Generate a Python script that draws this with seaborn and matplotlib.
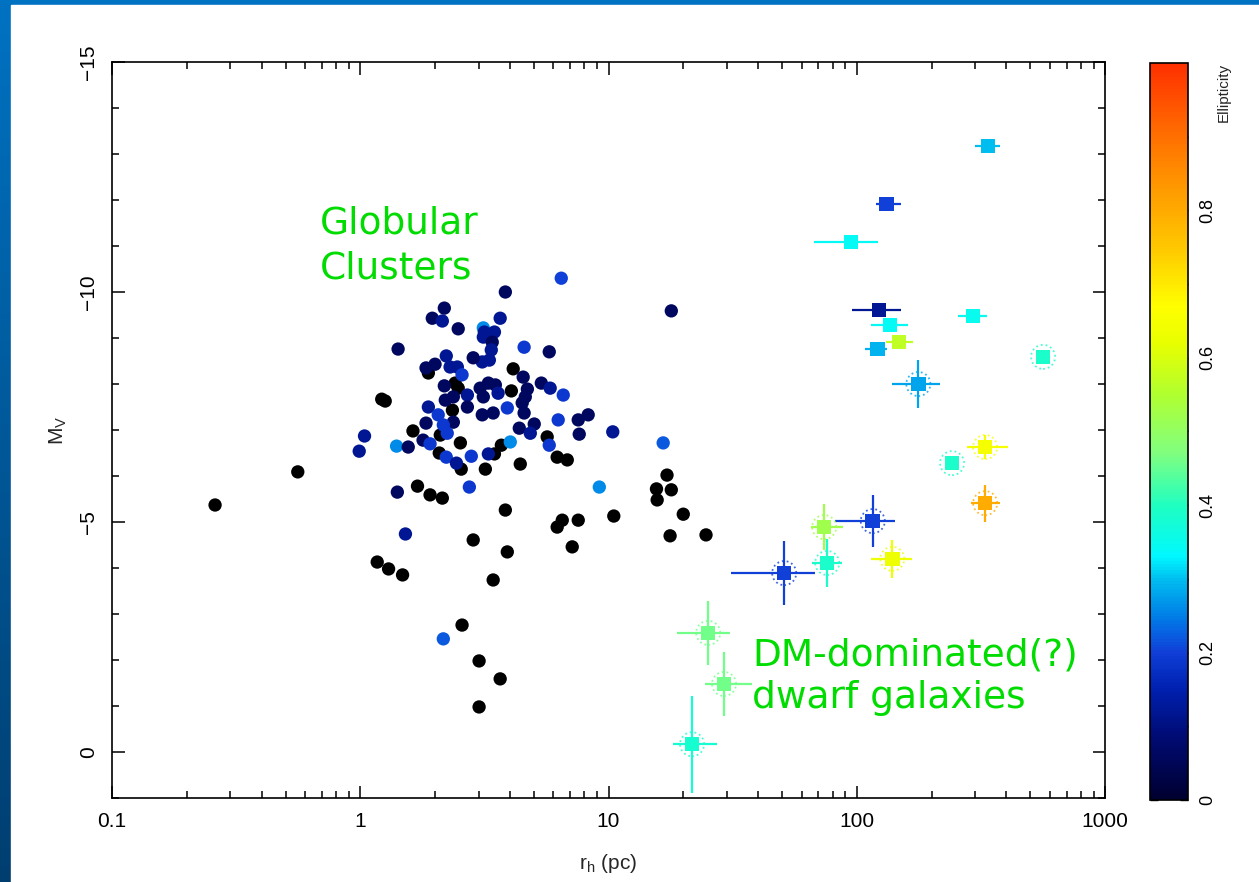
import numpy as np
import matplotlib
matplotlib.use("Agg")
import matplotlib.pyplot as plt
from matplotlib.colors import LinearSegmentedColormap, Normalize
from matplotlib.cm import ScalarMappable
from matplotlib.patches import Rectangle
from matplotlib.ticker import LogLocator, MultipleLocator, FixedLocator, NullFormatter
import seaborn as sns

# Globular clusters with a measured ellipticity
gc_r = [6.45, 3.84, 2.18, 1.95, 2.14, 2.48, 3.66, 3.13, 3.16, 3.47, 3.13, 3.40, 3.37, 3.31,
        3.10, 2.85, 1.42, 4.57, 5.77, 2.22, 1.84, 2.00, 2.30, 2.46, 2.57, 4.53, 2.18, 2.70,
        3.04, 3.28, 3.50, 3.13, 3.59, 4.71, 5.36, 5.82, 6.57, 4.62, 2.20, 2.37, 1.88, 2.70,
        3.91, 4.49, 4.57, 3.10, 3.43, 2.06, 2.37, 2.16, 6.27, 8.28, 7.55, 1.84, 2.24, 1.79,
        1.04, 0.99, 1.40, 1.56, 1.91, 4.37, 5.02, 4.84, 10.4, 7.62, 5.77, 4.02, 3.28, 2.80,
        2.22, 2.44, 2.75, 1.41, 9.18, 16.6, 1.52, 2.16, 17.9]
gc_mv = [-10.30, -10.00, -9.65, -9.43, -9.37, -9.20, -9.43, -9.22, -9.13, -9.13, -9.02, -8.91,
         -8.74, -8.52, -8.48, -8.57, -8.76, -8.80, -8.70, -8.61, -8.35, -8.43, -8.37, -8.37,
         -8.20, -8.15, -7.96, -7.76, -7.91, -8.02, -7.98, -7.72, -7.80, -7.89, -8.02, -7.91,
         -7.76, -7.72, -7.65, -7.72, -7.50, -7.50, -7.48, -7.59, -7.37, -7.33, -7.37, -7.33,
         -7.17, -7.11, -7.22, -7.33, -7.22, -7.15, -6.93, -6.78, -6.87, -6.54, -6.65, -6.63,
         -6.70, -7.04, -7.13, -6.93, -6.96, -6.91, -6.67, -6.74, -6.48, -6.43, -6.41, -6.28,
         -5.76, -5.65, -5.76, -6.72, -4.74, -2.46, -9.59]
gc_ell = [0.20, 0.06, 0.06, 0.06, 0.12, 0.06, 0.12, 0.26, 0.12, 0.12, 0.12, 0.06, 0.12, 0.12,
          0.12, 0.06, 0.06, 0.19, 0.06, 0.12, 0.06, 0.06, 0.12, 0.12, 0.19, 0.06, 0.06, 0.12,
          0.06, 0.06, 0.06, 0.06, 0.12, 0.06, 0.06, 0.12, 0.19, 0.06, 0.06, 0.06, 0.12, 0.06,
          0.19, 0.06, 0.06, 0.06, 0.06, 0.19, 0.06, 0.19, 0.19, 0.06, 0.06, 0.06, 0.19, 0.06,
          0.12, 0.12, 0.26, 0.06, 0.19, 0.06, 0.06, 0.12, 0.12, 0.06, 0.19, 0.26, 0.12, 0.19,
          0.19, 0.12, 0.19, 0.06, 0.26, 0.22, 0.12, 0.22, 0.06]

# Globular clusters without ellipticity (drawn black)
gc0_r = [1.88, 4.13, 2.41, 2.48, 4.06, 1.22, 1.26, 2.35, 1.63, 2.10, 5.66, 2.53, 3.70, 3.47,
         2.08, 2.55, 3.19, 4.41, 6.21, 6.82, 1.70, 1.91, 2.14, 3.84, 6.51, 7.55, 10.5, 15.6,
         15.7, 17.2, 17.9, 20.0, 17.7, 24.7, 6.21, 7.14, 0.26, 0.56, 1.17, 1.30, 1.48, 2.85,
         3.91, 3.43, 2.57, 3.01, 3.66, 3.01]
gc0_mv = [-8.24, -8.33, -8.02, -7.91, -7.85, -7.67, -7.63, -7.43, -6.98, -6.89, -6.85, -6.72,
          -6.67, -6.48, -6.50, -6.15, -6.15, -6.26, -6.41, -6.35, -5.78, -5.59, -5.52, -5.26,
          -5.04, -5.04, -5.13, -5.72, -5.48, -6.02, -5.70, -5.17, -4.70, -4.72, -4.89, -4.46,
          -5.37, -6.09, -4.13, -3.98, -3.85, -4.61, -4.35, -3.74, -2.76, -1.98, -1.59, -0.98]

# Dwarf galaxies
dw_r = [338, 132, 94.9, 123, 136, 148, 121, 177, 563, 294, 329, 242, 329, 116, 73.9, 76.0,
        139, 51.0, 25.2, 29.2, 21.7]
dw_mv = [-13.17, -11.91, -11.09, -9.61, -9.28, -8.91, -8.76, -8.00, -8.59, -9.48, -6.63,
         -6.28, -5.41, -5.02, -4.89, -4.11, -4.20, -3.89, -2.59, -1.48, -0.17]
dw_r_lo = [300, 119, 67.3, 95.8, 114, 131, 108, 139, 563, 256, 278, 242, 289, 81.8, 65.5,
           66.1, 114, 31.2, 18.9, 24.5, 18.2]
dw_r_hi = [378, 151, 122, 151, 161, 169, 132, 217, 563, 335, 407, 242, 378, 143, 88.1,
           87.3, 167, 68.0, 30.9, 37.9, 27.4]
dw_mv_err = [0, 0, 0, 0, 0, 0, 0, 0.52, 0.15, 0, 0.27, 0, 0.40, 0.57, 0.50, 0.52, 0.42,
             0.70, 0.70, 0.70, 1.05]
dw_ell = [0.30, 0.20, 0.34, 0.12, 0.34, 0.57, 0.29, 0.28, 0.39, 0.35, 0.65, 0.39, 0.80,
          0.20, 0.52, 0.39, 0.63, 0.20, 0.46, 0.46, 0.38]
dw_ring = [False, False, False, False, False, False, False, True, True, False, True, True,
           True, True, True, True, True, True, True, True, True]

ell_ticks = [0, 0.2, 0.4, 0.6, 0.8]

sns.set_theme(style="ticks")
plt.rcParams['font.family'] = ['Liberation Sans Narrow', 'Liberation Sans', 'DejaVu Sans']
plt.rcParams['mathtext.default'] = 'regular'

cmap = LinearSegmentedColormap.from_list("ell", [
    (0.00, "#000030"), (0.08, "#000A70"), (0.15, "#0020B0"), (0.20, "#1040D8"),
    (0.25, "#0080E8"), (0.30, "#00C0F0"), (0.33, "#00F8FF"), (0.40, "#20FFC0"),
    (0.47, "#80FF80"), (0.55, "#B0FF30"), (0.62, "#E8FF00"), (0.67, "#FFFF00"),
    (0.75, "#FFC800"), (0.82, "#FFA000"), (0.90, "#FF7000"), (1.00, "#FF3000")])
norm = Normalize(0, 1)

fig = plt.figure(figsize=(12.59, 8.82), dpi=100)

# slide background: blue gradient with a white panel
bg = fig.add_axes([0, 0, 1, 1], zorder=-10)
grad = np.linspace(0, 1, 256).reshape(-1, 1)
bg.imshow(grad, cmap=LinearSegmentedColormap.from_list("bg", ["#0072C2", "#003E70"]),
          aspect='auto', extent=[0, 1, 0, 1])
bg.add_patch(Rectangle((11 / 1259, 0), 1, 1 - 5 / 882, color='white'))
bg.set_xlim(0, 1)
bg.set_ylim(0, 1)
bg.axis('off')

ax = fig.add_axes([0.089, 0.0952, 0.7887, 0.8345])
ax.set_facecolor('white')

sns.scatterplot(x=gc0_r, y=gc0_mv, color='black', s=92, edgecolor='none', ax=ax,
                legend=False, zorder=3)
sns.scatterplot(x=gc_r, y=gc_mv, hue=gc_ell, palette=cmap, hue_norm=norm, s=92,
                edgecolor='none', ax=ax, legend=False, zorder=3)

# dwarf galaxies: error bars, rings and squares
for r, mv, lo, hi, me, e, ring in zip(dw_r, dw_mv, dw_r_lo, dw_r_hi, dw_mv_err, dw_ell, dw_ring):
    c = cmap(norm(e))
    ax.errorbar([r], [mv], xerr=[[r - lo], [hi - r]], yerr=[[me], [me]], fmt='none',
                ecolor=c, elinewidth=1.6, capsize=0, zorder=4)
    if ring:
        ax.scatter([r], [mv], s=300, facecolors='none', edgecolors=[c], linewidths=1.3,
                   linestyles=':', alpha=0.8, zorder=5)
sns.scatterplot(x=dw_r, y=dw_mv, hue=dw_ell, palette=cmap, hue_norm=norm, marker='s',
                s=110, edgecolor='none', ax=ax, legend=False, zorder=6)

ax.set_xscale('log')
ax.set_xlim(0.1, 1000)
ax.set_ylim(1, -15)
ax.xaxis.set_minor_locator(LogLocator(base=10, subs=np.arange(2, 10), numticks=20))
ax.xaxis.set_minor_formatter(NullFormatter())
ax.set_xticks([0.1, 1, 10, 100, 1000])
ax.set_xticklabels(['0.1', '1', '10', '100', '1000'])
ax.yaxis.set_minor_locator(MultipleLocator(1))
ax.set_yticks([-15, -10, -5, 0])
ax.set_yticklabels(['\u221215', '\u221210', '\u22125', '0'], rotation=90, va='center')
ax.tick_params(which='both', direction='in', top=True, right=True, colors='black',
               labelsize=15, width=1.1)
ax.tick_params(which='major', length=9, pad=10)
ax.tick_params(which='minor', length=5)
for s in ax.spines.values():
    s.set_linewidth(1.2)
    s.set_color('black')
ax.set_xlabel('r$_h$ (pc)', fontsize=15, labelpad=15)
ax.set_ylabel('M$_V$', fontsize=15, labelpad=7)

green = '#00DC00'
ax.text(0.69, -11.28, 'Globular', color=green, fontsize=27, family='DejaVu Sans', va='baseline')
ax.text(0.69, -10.30, 'Clusters', color=green, fontsize=27, family='DejaVu Sans', va='baseline')
ax.text(37.9, -1.89, 'DM-dominated(?)', color=green, fontsize=27, family='DejaVu Sans',
        va='baseline')
ax.text(37.9, -0.96, 'dwarf galaxies', color=green, fontsize=27, family='DejaVu Sans',
        va='baseline')

# colorbar
cax = fig.add_axes([0.9134, 0.093, 0.0302, 0.8356])
sm = ScalarMappable(norm=norm, cmap=cmap)
cb = fig.colorbar(sm, cax=cax)
cb.set_ticks(ell_ticks)
cb.set_ticklabels(['0', '0.2', '0.4', '0.6', '0.8'])
cax.yaxis.set_minor_locator(FixedLocator([0.1, 0.3, 0.5, 0.7, 0.9]))
cax.tick_params(which='both', direction='in', left=True, right=True, length=6, width=1,
                colors='black', labelsize=13, pad=8)
for lab in cax.get_yticklabels():
    lab.set_rotation(90)
    lab.set_va('center')
cb.outline.set_linewidth(1.2)
cb.outline.set_edgecolor('black')
cax.text(1.95, 1.0, 'Ellipticity', transform=cax.transAxes, rotation=90, va='top',
         ha='center', fontsize=11)

fig.savefig('out.png', dpi=100, facecolor=fig.get_facecolor())
